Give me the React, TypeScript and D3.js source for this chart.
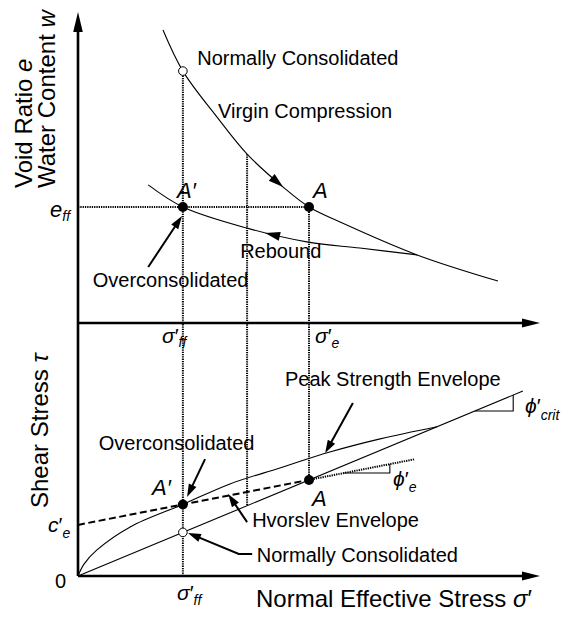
import React from "react";
import * as d3 from "d3";

// ---- data (schematic units) ----
const sigmaDomain = [0, 10];
const voidDomain = [0, 10];
const tauDomain = [0, 10];

const sigmaFF = 2.27; // σ'ff
const sigmaE = 5.0; // σ'e
const sigmaMid = 3.66; // intermediate stress
const eFF = 3.73; // e at A and A'
const eNC = 8.1; // e on virgin line at σ'ff

const virginSigma = [1.84, 2.27, 3.01, 3.66, 4.44, 5.0, 5.67, 7.34, 9.09];
const virginE = [9.42, 8.1, 6.62, 5.43, 4.37, 3.73, 3.25, 2.19, 1.35];

const reboundSigma = [1.52, 2.27, 3.66, 4.98, 6.1, 7.34];
const reboundE = [4.44, 3.73, 3.05, 2.6, 2.41, 2.19];

const ncSlope = 0.759; // τ = tanφ'crit · σ
const ncMaxSigma = 9.63;

const hvorslevC = 2.02; // c'e
const hvorslevSlope = 0.356; // tanφ'e
const hvorslevMaxSigma = 7.29;

const peakSigma = [0, 0.13, 0.41, 1.13, 2.27, 3.29, 4.37, 5.45, 6.54, 7.77];
const peakTau = [0, 0.47, 1.03, 1.94, 2.83, 3.64, 4.27, 4.9, 5.42, 5.9];

const FONT = "'Liberation Sans', Arial, Helvetica, sans-serif";

const x = d3.scaleLinear().domain(sigmaDomain).range([78, 540]);
const yE = d3.scaleLinear().domain(voidDomain).range([323, 12]);
const yT = d3.scaleLinear().domain(tauDomain).range([576, 323]);

function head(tx: number, ty: number, angle: number, len = 13, half = 4.2) {
  const bx = tx - len * Math.cos(angle);
  const by = ty - len * Math.sin(angle);
  const px = -Math.sin(angle) * half;
  const py = Math.cos(angle) * half;
  return `M${tx},${ty}L${bx + px},${by + py}L${bx - px},${by - py}Z`;
}

function Arrow({ pts, len = 13, half = 4.2, w = 2 }: { pts: [number, number][]; len?: number; half?: number; w?: number }) {
  const n = pts.length;
  const [tx, ty] = pts[n - 1];
  const [fx, fy] = pts[n - 2];
  const a = Math.atan2(ty - fy, tx - fx);
  const endX = tx - (len - 2) * Math.cos(a);
  const endY = ty - (len - 2) * Math.sin(a);
  const linePts = [...pts.slice(0, n - 1), [endX, endY]];
  return (
    <g>
      <polyline points={linePts.map((p) => p.join(",")).join(" ")} fill="none" stroke="#000" strokeWidth={w} />
      <path d={head(tx, ty, a, len, half)} fill="#000" />
    </g>
  );
}

export default function App() {
  const curve = d3
    .line<[number, number]>()
    .x((d) => d[0])
    .y((d) => d[1])
    .curve(d3.curveCatmullRom.alpha(0.5));

  const virginPx: [number, number][] = virginSigma.map((s, i) => [x(s), yE(virginE[i])]);
  const reboundPx: [number, number][] = reboundSigma.map((s, i) => [x(s), yE(reboundE[i])]);
  const peakPx: [number, number][] = peakSigma.map((s, i) => [x(s), yT(peakTau[i])]);

  const hv = (s: number) => hvorslevC + hvorslevSlope * s;
  const nc = (s: number) => ncSlope * s;

  // arrowheads along the consolidation curves
  const vTip: [number, number] = [x(4.44), yE(4.37)];
  const vA = Math.atan2(yE(3.73) - yE(5.43), x(5.0) - x(3.66));
  const rTip: [number, number] = [x(4.05), yE(2.89)];
  const rA = Math.atan2(yE(3.05) - yE(2.6), x(3.66) - x(4.98));

  // slope triangles
  const tE0 = 4.07;
  const tES1 = 6.75;
  const tES0 = (tE0 - hvorslevC) / hvorslevSlope;
  const tC0s = 8.59;
  const tC1s = 9.42;

  const dot = { stroke: "#000", strokeWidth: 2, strokeDasharray: "1.3 1", fill: "none" } as const;

  return (
    <svg width={564} height={623} style={{ position: "absolute", left: 0, top: 0 }} fontFamily={FONT}>
      <rect width={564} height={623} fill="#fff" />

      {/* dotted projection lines */}
      <line x1={x(sigmaFF)} y1={yE(eNC)} x2={x(sigmaFF)} y2={yT(0)} {...dot} />
      <line x1={x(sigmaMid)} y1={yE(5.43)} x2={x(sigmaMid)} y2={yT(nc(sigmaMid))} {...dot} />
      <line x1={x(sigmaE)} y1={yE(eFF)} x2={x(sigmaE)} y2={yT(nc(sigmaE))} {...dot} />
      <line x1={x(0)} y1={yE(eFF)} x2={x(sigmaE)} y2={yE(eFF)} {...dot} />

      {/* axes */}
      <line x1={x(0)} y1={yT(0)} x2={x(0)} y2={28} stroke="#000" strokeWidth={2.6} />
      <path d={head(x(0), 12, -Math.PI / 2, 20, 4.8)} fill="#000" />
      <line x1={x(0)} y1={yE(0)} x2={526} y2={yE(0)} stroke="#000" strokeWidth={2.4} />
      <path d={head(540, yE(0), 0, 18, 4.5)} fill="#000" />
      <line x1={x(0)} y1={yT(0)} x2={526} y2={yT(0)} stroke="#000" strokeWidth={2.4} />
      <path d={head(540, yT(0), 0, 18, 4.5)} fill="#000" />

      {/* upper panel: compression curves */}
      <path d={curve(virginPx) ?? ""} fill="none" stroke="#000" strokeWidth={1.1} />
      <path d={curve(reboundPx) ?? ""} fill="none" stroke="#000" strokeWidth={1.1} />
      <path d={head(vTip[0], vTip[1], vA, 15, 4.5)} fill="#000" />
      <path d={head(rTip[0], rTip[1], rA, 15, 4.5)} fill="#000" />

      {/* lower panel: envelopes */}
      <line x1={x(0)} y1={yT(0)} x2={x(ncMaxSigma)} y2={yT(nc(ncMaxSigma))} stroke="#000" strokeWidth={1.1} />
      <path d={curve(peakPx) ?? ""} fill="none" stroke="#000" strokeWidth={1.1} />
      <line x1={x(0)} y1={yT(hv(0))} x2={x(sigmaE)} y2={yT(hv(sigmaE))} stroke="#000" strokeWidth={2} strokeDasharray="7 3.5" />
      <line x1={x(sigmaE)} y1={yT(hv(sigmaE))} x2={x(hvorslevMaxSigma)} y2={yT(hv(hvorslevMaxSigma))} stroke="#000" strokeWidth={2} strokeDasharray="1.3 1" />

      {/* slope triangles */}
      <polyline points={`${x(tES0)},${yT(tE0)} ${x(tES1)},${yT(tE0)} ${x(tES1)},${yT(hv(tES1))}`} fill="none" stroke="#000" strokeWidth={1.1} />
      <polyline points={`${x(tC0s)},${yT(nc(tC0s))} ${x(tC1s)},${yT(nc(tC0s))} ${x(tC1s)},${yT(nc(tC1s))}`} fill="none" stroke="#000" strokeWidth={1.1} />

      {/* points */}
      <circle cx={x(sigmaFF)} cy={yE(eNC)} r={4.3} fill="#fff" stroke="#000" strokeWidth={1} />
      <circle cx={x(sigmaFF)} cy={yE(eFF)} r={5} fill="#000" />
      <circle cx={x(sigmaE)} cy={yE(eFF)} r={5} fill="#000" />
      <circle cx={x(sigmaFF)} cy={yT(nc(sigmaFF))} r={4.3} fill="#fff" stroke="#000" strokeWidth={1} />
      <circle cx={x(sigmaFF)} cy={yT(hv(sigmaFF))} r={5} fill="#000" />
      <circle cx={x(sigmaE)} cy={yT(nc(sigmaE))} r={5} fill="#000" />

      {/* annotation arrows */}
      <Arrow pts={[[x(1.52), yE(1.8)], [x(2.25), yE(3.44)]]} />
      <Arrow pts={[[x(5.95), yT(6.84)], [x(5.35), yT(4.86)]]} />
      <Arrow pts={[[x(2.75), yT(4.62)], [x(2.36), yT(3.12)]]} />
      <Arrow pts={[[x(3.66), yT(2.13)], [x(3.25), yT(3.24)]]} />
      <Arrow pts={[[x(3.77), yT(0.87)], [x(3.48), yT(0.87)], [x(2.38), yT(1.7)]]} />

      {/* annotation text */}
      <g fontSize={20} fill="#000">
        <text x={x(2.58)} y={yE(8.3)}>Normally Consolidated</text>
        <text x={x(3.03)} y={yE(6.59)}>Virgin Compression</text>
        <text x={x(3.51)} y={yE(2.09)}>Rebound</text>
        <text x={x(0.32)} y={yE(1.16)}>Overconsolidated</text>
        <text x={x(4.48)} y={yT(7.51)}>Peak Strength Envelope</text>
        <text x={x(0.45)} y={yT(4.98)}>Overconsolidated</text>
        <text x={x(3.77)} y={yT(1.94)}>Hvorslev Envelope</text>
        <text x={x(3.87)} y={yT(0.55)}>Normally Consolidated</text>
      </g>

      {/* point labels */}
      <g fontSize={22} fontStyle="italic">
        <text x={177} y={198}>A′</text>
        <text x={313} y={198}>A</text>
        <text x={152} y={495}>A′</text>
        <text x={312} y={506}>A</text>
      </g>

      {/* tick-style labels */}
      <text x={50} y={217} fontSize={22} fontStyle="italic">
        e<tspan fontSize={14} dy={4}>ff</tspan>
      </text>
      <text x={162} y={343} fontSize={21}>
        <tspan fontStyle="italic">σ</tspan>′<tspan fontSize={14} dy={4} fontStyle="italic">ff</tspan>
      </text>
      <text x={315} y={343} fontSize={21}>
        <tspan fontStyle="italic">σ</tspan>′<tspan fontSize={14} dy={5} fontStyle="italic">e</tspan>
      </text>
      <text x={177} y={600} fontSize={21}>
        <tspan fontStyle="italic">σ</tspan>′<tspan fontSize={14} dy={5} fontStyle="italic">ff</tspan>
      </text>
      <text x={48} y={532} fontSize={21}>
        <tspan fontStyle="italic">c</tspan>′<tspan fontSize={14} dy={6} fontStyle="italic">e</tspan>
      </text>
      <text x={55} y={588} fontSize={20}>0</text>
      <text x={393} y={486} fontSize={21}>
        <tspan fontStyle="italic">ϕ</tspan>′<tspan fontSize={14} dy={6} fontStyle="italic">e</tspan>
      </text>
      <text x={525} y={413} fontSize={21}>
        <tspan fontStyle="italic">ϕ</tspan>′<tspan fontSize={14} dy={7} fontStyle="italic">crit</tspan>
      </text>

      {/* axis titles */}
      <g fontSize={24}>
        <text transform="translate(32,188) rotate(-90)">
          Void Ratio <tspan fontStyle="italic">e</tspan>
        </text>
        <text transform="translate(55,188) rotate(-90)">
          Water Content <tspan fontStyle="italic">w</tspan>
        </text>
        <text transform="translate(48,508) rotate(-90)">
          Shear Stress <tspan fontStyle="italic">τ</tspan>
        </text>
        <text x={256} y={607}>
          Normal Effective Stress <tspan fontStyle="italic">σ</tspan>′
        </text>
      </g>
    </svg>
  );
}
